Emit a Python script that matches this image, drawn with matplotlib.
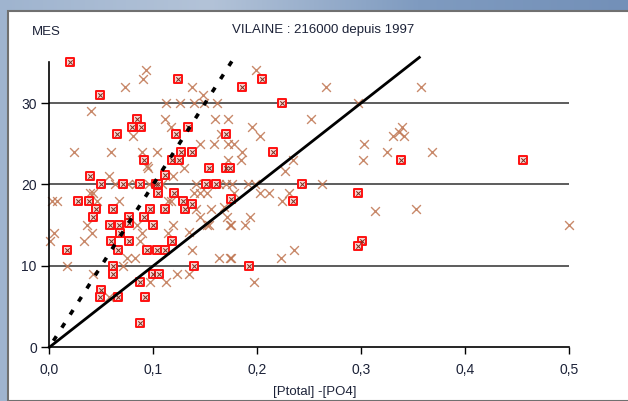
import matplotlib
matplotlib.use("Agg")
import matplotlib.pyplot as plt
import numpy as np
from matplotlib.patches import Rectangle

plt.rcParams['font.family'] = ['Liberation Sans', 'DejaVu Sans']

# points with a red square (x, y)
sq_x = [0.020, 0.049, 0.124, 0.185, 0.205, 0.224, 0.084, 0.080, 0.088, 0.065,
        0.122, 0.133, 0.170, 0.215, 0.127, 0.137, 0.091, 0.118, 0.125, 0.154,
        0.170, 0.174, 0.039, 0.111, 0.050, 0.071, 0.087, 0.103, 0.105, 0.151,
        0.160, 0.243, 0.105, 0.120, 0.297, 0.028, 0.038, 0.129, 0.175, 0.234,
        0.045, 0.061, 0.097, 0.111, 0.131, 0.137, 0.042, 0.077, 0.091, 0.058,
        0.067, 0.077, 0.100, 0.068, 0.059, 0.077, 0.118, 0.301, 0.297, 0.017,
        0.066, 0.094, 0.104, 0.111, 0.061, 0.139, 0.192, 0.061, 0.100, 0.106,
        0.087, 0.050, 0.049, 0.066, 0.092, 0.087, 0.456, 0.338]
sq_y = [35, 31, 33, 32, 33, 30, 28, 27, 27, 26.2,
        26.2, 27, 26.2, 24, 24, 24, 23, 23, 23, 22,
        22, 22, 21, 21.2, 20, 20, 20, 20, 20, 20,
        20, 20, 19, 19, 19, 18, 18, 18, 18.2, 18,
        17, 17, 17, 17, 17, 17.6, 16, 16, 16, 15,
        15, 15.3, 15, 14, 13, 13, 13, 13, 12.4, 12,
        12, 12, 12, 12, 10, 10, 10, 9, 9, 9,
        8, 7, 6.2, 6.2, 6.2, 3, 23, 23]

# plain crosses
cr_x = [0.093, 0.090, 0.073, 0.199, 0.266, 0.358, 0.040,
        0.112, 0.126, 0.139, 0.149, 0.161, 0.148, 0.297, 0.137,
        0.111, 0.117, 0.159, 0.172, 0.252, 0.195, 0.081, 0.203, 0.165,
        0.339, 0.331, 0.341, 0.336,
        0.024, 0.059, 0.089, 0.104, 0.145, 0.158, 0.172, 0.178, 0.185, 0.303, 0.325, 0.368,
        0.302, 0.234, 0.184, 0.172, 0.095, 0.094, 0.130, 0.227, 0.057, 0.119,
        0.063, 0.076, 0.083, 0.096, 0.108, 0.141, 0.149, 0.163, 0.170, 0.176, 0.191, 0.198, 0.262,
        0.039, 0.042, 0.139, 0.145, 0.152, 0.178, 0.203, 0.211, 0.231,
        0.003, 0.007, 0.067, 0.046, 0.114, 0.117, 0.224,
        0.313, 0.353, 0.156, 0.168, 0.141, 0.145, 0.171, 0.193,
        0.036, 0.084, 0.119, 0.152, 0.154, 0.175, 0.174, 0.188, 0.500,
        0.005, 0.041, 0.089, 0.114, 0.134,
        0.001, 0.033, 0.087,
        0.137, 0.235,
        0.075, 0.082, 0.163, 0.174, 0.175, 0.223,
        0.017, 0.071,
        0.042, 0.123, 0.134,
        0.097, 0.112, 0.197, 0.057]
cr_y = [34, 33, 32, 34, 32, 32, 29,
        30, 30, 30, 30, 30, 31, 30, 32,
        28, 27, 28, 28, 28, 27, 26, 26, 26.2,
        27, 26, 26, 26.4,
        24, 24, 24, 24, 25, 25, 25, 25, 24, 25, 24, 24,
        23, 23, 23, 23, 22, 22.3, 22, 21.7, 21, 21,
        20, 20, 20, 20, 20, 20, 20, 20, 20, 20, 20, 20, 20,
        19, 19, 19, 19, 19, 19, 19, 19, 19,
        18, 18, 18, 18, 18, 18, 18,
        16.7, 17, 17, 17.2, 17, 16, 16, 16,
        15, 15, 15, 15, 15, 15, 15, 15, 15,
        14, 14, 14, 14, 14.2,
        13, 13, 13,
        12, 12,
        11, 11, 11, 11, 11, 11,
        10, 10,
        9, 9, 9,
        8, 8, 8, 6.2]

x_ticks = [0.0, 0.1, 0.2, 0.3, 0.4, 0.5]
x_ticklabels = ["0,0", "0,1", "0,2", "0,3", "0,4", "0,5"]
y_ticks = [0, 10, 20, 30]

W, H = 628, 401
fig = plt.figure(figsize=(W / 100, H / 100), dpi=100)

# screenshot background (blue window) + white panel
bg = fig.add_axes([0, 0, 1, 1])
grad = np.linspace(0, 1, 256).reshape(1, -1)
bg.imshow(grad, aspect='auto', extent=[0, 1, 0, 1],
          cmap=matplotlib.colors.LinearSegmentedColormap.from_list(
              "win", ["#9fb4cf", "#b3c3d8", "#7f9bc0", "#7390b8"]))
bg.add_patch(Rectangle((8 / W, 0), 1, (H - 11) / H, facecolor='white',
                       edgecolor='#707070', linewidth=1.5))
bg.set_xlim(0, 1)
bg.set_ylim(0, 1)
bg.axis('off')

ax = fig.add_axes([49.3 / W, 1 - 347.3 / H, (569 - 49.3) / W, (347.3 - 62.3) / H])
ax.set_facecolor('white')
ax.set_xlim(0, 0.5)
ax.set_ylim(0, 35)

for v in y_ticks[1:]:
    ax.axhline(v, color='#303030', linewidth=1.1, zorder=1)

ax.scatter(cr_x, cr_y, marker='x', s=40, color='#bf7450', linewidths=1.0,
           alpha=0.85, zorder=2, clip_on=False)
ax.scatter(sq_x, sq_y, marker='s', s=40, facecolor='#f9d6d2', edgecolor='#ff1010',
           linewidths=1.4, zorder=3, clip_on=False)
ax.scatter(sq_x, sq_y, marker='x', s=10, color='#7a3020', linewidths=0.7,
           zorder=4, clip_on=False)

xs = np.array([0, 0.356])
ax.plot(xs, 100 * xs, color='black', linewidth=2, zorder=5, clip_on=False)
xd = np.array([0.004, 0.178])
ax.plot(xd, 200 * xd, color='black', linewidth=2.6, linestyle=(0, (1.5, 2.8)),
        zorder=5, clip_on=False)

for side in ['top', 'right']:
    ax.spines[side].set_visible(False)
for side in ['left', 'bottom']:
    ax.spines[side].set_color('black')
    ax.spines[side].set_linewidth(1.2)

ax.set_xticks(x_ticks)
ax.set_xticklabels(x_ticklabels)
ax.set_yticks(y_ticks)
ax.tick_params(axis='x', direction='out', length=5, width=1, pad=6,
               labelsize=10, labelcolor='#1c2238')
ax.tick_params(axis='y', direction='out', length=6, width=1, pad=3,
               labelsize=10, labelcolor='#1c2238')

fig.text(32 / W, 1 - 32 / H, "MES", fontsize=9.5, color='#1c2238',
         va='center', ha='left')
fig.text(323 / W, 1 - 30 / H, "VILAINE : 216000 depuis 1997", fontsize=9.5,
         color='#1c2238', va='center', ha='center')
fig.text(315 / W, 1 - 392 / H, "[Ptotal] -[PO4]", fontsize=9.5,
         color='#1c2238', va='center', ha='center')

fig.savefig("out.png", dpi=100)
